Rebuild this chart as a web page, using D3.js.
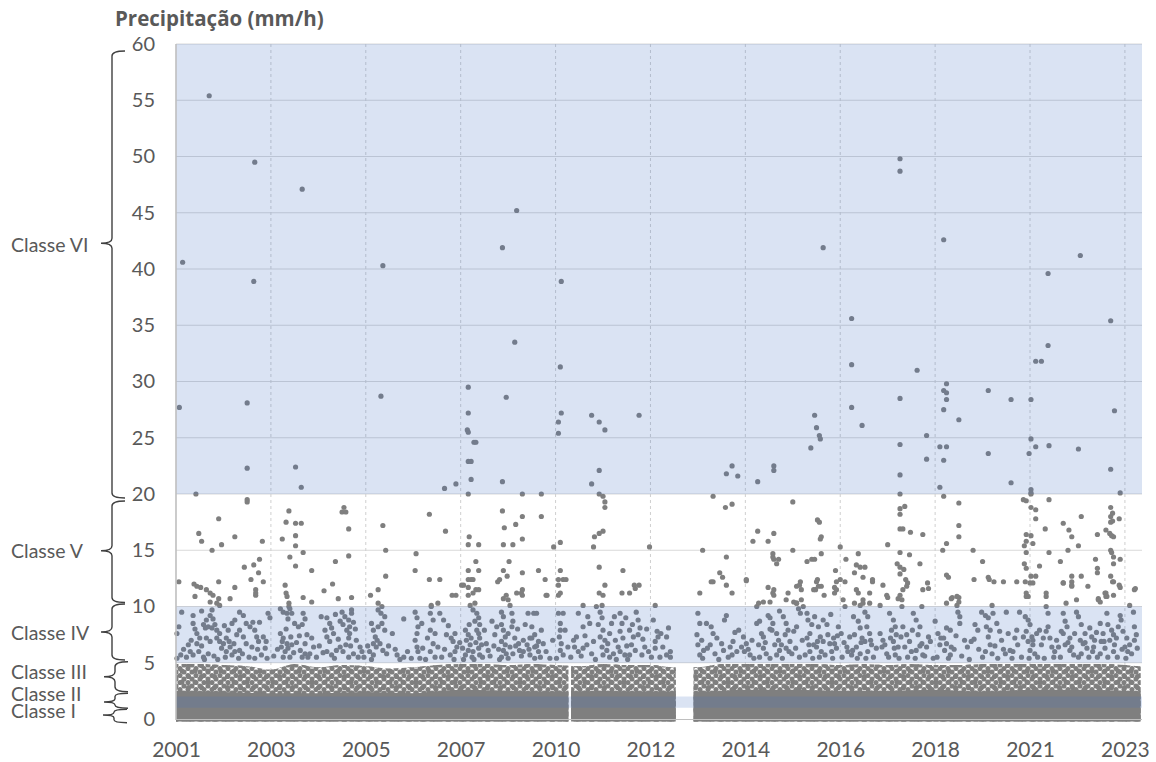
<!DOCTYPE html>
<html lang="pt">
<head>
<meta charset="utf-8">
<title>Precipitação (mm/h)</title>
<script src="https://cdn.jsdelivr.net/npm/d3@7"></script>
<style>
  html, body { margin: 0; padding: 0; background: #ffffff; }
  svg { display: block; }
  text { font-family: Lato, "Open Sans", "DejaVu Sans", sans-serif; fill: #595959; }
  text.title { font-family: "Open Sans", Lato, sans-serif; font-weight: bold; }
</style>
</head>
<body>
<svg id="chart" width="1156" height="762"></svg>
<script>
// ---- axis labels -------------------------------------------------------
const tickLabels = ["2001", "2003", "2005", "2007", "2010", "2012", "2014", "2016", "2018", "2021", "2023"];
const yTicks = [0, 5, 10, 15, 20, 25, 30, 35, 40, 45, 50, 55, 60];

// ---- intensity classes (mm/h) -------------------------------------------
const classes = [
  { name: "Classe I",   lo: 0,  hi: 1 },
  { name: "Classe II",  lo: 1,  hi: 2 },
  { name: "Classe III", lo: 2,  hi: 5 },
  { name: "Classe IV",  lo: 5,  hi: 10 },
  { name: "Classe V",   lo: 10, hi: 20 },
  { name: "Classe VI",  lo: 20, hi: 60 }
];
const shadedClasses = ["Classe II", "Classe IV", "Classe VI"];

// ---- records: position along the record axis (one unit per label) and intensity
// spans of the axis that hold records (breaks are missing data)
const recordSpans = [[0, 4.11], [4.19, 5.24], [5.48, 7.37], [7.42, 10.14]];

// upper limit of the packed cloud of low-intensity records
const packedTop = [
  [0, 4.9], [0.25, 4.9], [0.5, 4.8], [0.75, 4.7], [1, 4.4], [1.25, 4.9], [1.5, 4.6], [1.75, 4.8],
  [2, 4.7], [2.25, 4.5], [2.5, 4.6], [2.75, 4.8], [3, 4.9], [3.25, 4.9], [3.5, 4.8], [3.75, 4.9],
  [4, 4.8], [4.25, 4.7], [4.5, 4.9], [4.75, 4.8], [5, 4.8], [5.25, 4.6], [5.5, 4.6], [5.75, 4.9],
  [6, 4.9], [6.25, 4.9], [6.5, 4.9], [6.75, 4.9], [7, 4.8], [7.25, 4.9], [7.5, 4.8], [7.75, 4.9],
  [8, 4.8], [8.25, 4.8], [8.5, 4.9], [8.75, 4.9], [9, 4.9], [9.25, 4.9], [9.5, 4.9], [9.75, 4.9],
  [10, 4.8], [10.25, 4.6]
];
// limit below which the records overlap completely
const solidTop = [
  [0, 2.5], [0.5, 2.4], [1, 2.3], [1.5, 2.3], [2, 2.4], [2.5, 2.3], [3, 2.6], [3.5, 2.5], [4, 2.4],
  [4.5, 2.5], [5, 2.4], [5.5, 2.4], [6, 2.6], [6.5, 2.6], [7, 2.5], [7.5, 2.5], [8, 2.6], [8.5, 2.4],
  [9, 2.6], [9.5, 2.6], [10, 2.5], [10.25, 2.4]
];

const classVIPoints = [
  [0.35,55.4],[0.83,49.5],[1.33,47.1],[0.07,40.6],[0.82,38.9],[2.18,40.3],[3.44,41.9],[3.59,45.2],[4.06,38.9],
  [7.63,49.8],[7.63,48.7],[6.82,41.9],[8.09,42.6],[9.19,39.6],[9.53,41.2],
  [0.035,27.7],[0.75,28.1],[0.75,22.3],[0.21,20.0],[1.26,22.4],[1.32,20.6],[2.16,28.7],[2.83,20.5],[2.95,20.9],
  [3.08,29.5],[3.08,27.2],[3.07,25.7],[3.08,25.5],[3.14,24.6],[3.16,24.6],[3.08,22.9],[3.11,22.9],[3.11,21.3],[3.08,20.0],
  [3.57,33.5],[3.48,28.6],[3.44,21.1],[3.65,20.0],[3.85,20.0],
  [4.05,31.3],[4.06,27.2],[4.03,26.4],[4.03,25.4],
  [4.38,27.0],[4.46,26.4],[4.52,25.7],[4.46,22.1],[4.38,20.9],[4.46,20.0],[4.88,27.0],
  [7.12,35.6],[7.12,31.5],[7.12,27.7],[7.23,26.1],[6.73,27.0],[6.75,25.9],[6.78,25.2],[6.79,24.9],[6.69,24.1],
  [5.86,22.5],[5.80,21.8],[5.92,21.6],[6.13,21.1],[6.30,22.5],[6.30,22.1],
  [7.63,28.5],[7.63,24.4],[7.63,21.7],[7.63,20.0],
  [7.81,31.0],[7.91,25.2],[7.91,23.1],[8.05,24.2],[8.12,24.2],[8.09,23.0],[8.05,20.6],
  [8.12,29.8],[8.09,29.2],[8.12,29.0],[8.12,28.4],[8.09,27.5],[8.25,26.6],
  [8.56,29.2],[8.56,23.6],[8.80,28.4],[8.80,21.0],[9.01,28.4],[9.01,24.9],[9.06,24.2],[8.99,23.6],[9.01,20.4],[9.01,20.1],[9.01,20.0],
  [9.19,33.2],[9.06,31.8],[9.12,31.8],[9.20,24.3],[9.51,24.0],[9.85,35.4],[9.89,27.4],[9.85,22.2],[9.95,20.1]
];

const classVPoints = [
  [0.75,19.5],[0.75,19.3],[0.45,17.8],[0.24,16.5],[0.27,15.8],[0.38,15.0],[0.48,15.5],[0.62,16.2],[0.91,15.8],
  [0.72,13.5],[0.82,13.7],[0.88,14.2],[0.79,12.4],[0.92,12.2],[0.87,13.0],[0.84,11.5],[0.84,11.2],[0.84,11.0],
  [0.03,12.2],[0.19,12.0],[0.22,11.8],[0.26,11.7],[0.32,11.5],[0.36,11.2],[0.39,11.0],[0.45,12.2],[0.62,11.7],
  [0.20,10.9],[0.45,10.7],[0.57,10.7],[0.43,10.3],[0.46,10.1],[0.36,10.4],
  [1.19,18.5],[1.16,17.5],[1.26,17.4],[1.32,17.4],[1.26,16.3],[1.12,16.0],[1.26,15.4],[1.34,14.8],[1.20,14.4],
  [1.26,13.6],[1.43,13.2],[1.15,11.9],[1.16,11.2],[1.17,10.9],[1.34,10.8],[1.19,10.3],[1.19,10.0],[1.43,10.4],
  [1.56,11.4],[1.65,12.0],[1.68,14.0],[1.77,18.8],[1.75,18.4],[1.79,18.4],[1.82,16.9],[1.82,14.5],[1.71,10.7],[1.85,10.8],
  [2.18,17.2],[2.21,15.0],[2.21,12.7],[2.13,11.5],[2.05,11.0],[2.13,10.3],[2.17,10.0],[2.53,14.7],[2.52,13.2],
  [2.67,18.2],[2.67,12.4],[2.78,12.4],[2.84,16.7],[2.91,11.0],[2.95,11.0],[2.69,10.1],[2.76,10.3],
  [3.09,16.2],[3.08,15.5],[3.19,15.5],[3.16,14.0],[3.08,13.2],[3.19,13.2],[3.08,12.4],[3.11,12.4],[3.13,12.4],
  [3.03,11.9],[3.08,11.7],[3.16,11.5],[3.19,11.5],[3.08,11.0],[3.13,11.2],[3.01,11.9],[3.10,10.1],[3.15,10.3],
  [3.44,18.5],[3.46,17.0],[3.58,17.3],[3.65,18.0],[3.85,18.0],[3.45,15.5],[3.55,15.5],[3.65,16.0],[3.45,13.2],
  [3.51,14.0],[3.49,12.7],[3.39,12.2],[3.41,12.4],[3.65,13.0],[3.59,11.2],[3.65,11.5],[3.65,11.0],[3.48,11.0],
  [3.82,13.2],[3.89,12.4],[3.91,11.0],[3.98,15.3],[3.45,10.7],[3.64,11.2],[3.50,10.6],[3.52,10.1],[3.90,11.0],
  [4.05,15.7],[4.05,13.2],[4.03,12.4],[4.08,12.4],[4.11,12.4],[4.03,11.9],[4.05,11.2],[4.03,11.0],
  [4.50,16.7],[4.46,16.5],[4.41,16.2],[4.40,15.3],[4.46,13.5],[4.52,11.9],[4.46,11.2],[4.50,11.0],
  [4.50,19.8],[4.52,19.3],[4.52,18.8],[4.49,10.1],[4.29,10.1],
  [4.71,13.2],[4.83,11.9],[4.88,11.9],[4.70,11.2],[4.78,11.2],[4.84,11.6],[4.99,15.3],[5.05,10.1],
  [5.66,19.8],[5.79,18.8],[5.86,19.1],[6.50,19.3],[5.55,15.0],[5.80,14.4],[5.73,13.0],[5.76,12.6],[5.66,12.2],
  [5.80,11.9],[5.52,11.2],[5.86,11.2],[5.64,12.2],[6.01,12.3],
  [6.13,16.7],[6.08,15.8],[6.24,15.8],[6.30,16.5],[6.29,14.7],[6.30,14.2],[6.33,13.8],[6.29,14.4],[6.35,14.2],
  [6.01,12.4],[6.24,11.7],[6.30,11.5],[6.29,11.2],[6.30,11.0],[6.45,11.2],[6.50,15.0],[6.57,11.9],[6.59,11.5],
  [6.65,14.0],[6.70,14.2],[6.73,14.2],[6.76,17.7],[6.78,17.5],[6.80,16.2],[6.79,16.0],[6.80,14.7],[6.76,12.4],
  [6.80,11.8],[6.83,11.0],[6.74,11.5],[6.94,11.7],[6.94,11.2],[6.95,13.2],[7.00,15.3],[7.00,12.4],[7.06,14.2],
  [6.14,10.3],[6.19,10.4],[6.26,10.4],[6.54,11.8],[6.58,12.2],[6.72,11.5],[6.77,11.8],[6.75,12.2],
  [6.43,10.6],[6.51,10.4],[6.54,10.3],[6.59,10.6],[6.96,12.2],[7.05,12.2],[6.96,11.5],
  [7.19,14.7],[7.17,13.7],[7.21,13.5],[7.26,13.5],[7.15,13.0],[7.24,12.6],[7.34,12.4],[7.34,12.2],[7.17,11.5],
  [7.19,11.2],[7.50,15.5],[7.50,10.8],[7.15,10.3],[7.21,10.1],[7.24,10.3],[7.31,10.3],[7.42,10.1],[7.31,11.2],
  [7.45,11.9],[7.49,11.0],
  [7.63,18.7],[7.63,18.2],[7.68,18.9],[7.63,16.9],[7.66,16.9],[7.74,16.6],[7.87,16.4],[7.63,14.8],[7.73,14.6],
  [7.60,13.8],[7.63,13.5],[7.67,13.3],[7.63,12.9],[7.69,12.4],[7.71,12.1],[7.63,11.0],[7.61,10.7],[7.84,13.8],
  [7.92,12.1],[7.66,11.5],[7.70,11.8],[7.87,11.5],[7.93,11.6],
  [8.09,19.8],[8.25,19.2],[8.25,17.2],[8.25,16.2],[8.12,15.6],[8.08,15.0],[8.12,12.8],[8.14,12.6],[8.18,10.8],
  [8.25,10.8],[8.12,10.3],[8.17,10.7],[8.23,10.9],[8.25,10.4],[8.23,10.1],
  [8.40,15.0],[8.50,14.0],[8.56,12.6],[8.57,12.4],[8.62,12.2],[8.72,12.2],[8.86,12.2],[8.41,12.4],[8.60,10.1],
  [8.93,19.5],[8.96,19.4],[9.01,18.8],[9.06,18.6],[9.06,17.8],[9.16,16.9],[8.96,16.4],[9.01,16.3],[8.96,15.8],
  [8.94,15.4],[9.03,15.6],[8.96,14.8],[8.94,13.8],[8.96,13.4],[9.06,12.7],[9.01,12.7],[9.10,13.6],[9.20,19.5],
  [9.20,14.8],[9.32,14.0],[9.35,17.4],[9.41,16.8],[9.44,16.2],[9.40,15.0],[9.51,15.4],[9.54,18.0],[9.44,12.7],
  [9.44,12.2],[9.44,11.8],[9.54,12.7],[9.35,12.1],[9.61,11.8],[9.69,14.2],[9.71,13.4],[9.71,13.0],[9.71,16.4],
  [8.98,10.9],[8.95,12.2],[9.00,12.1],[9.03,12.1],[9.17,11.2],[9.38,10.3],[9.35,12.1],[9.44,11.9],[9.49,10.6],
  [8.96,11.2],[8.96,10.9],[9.17,10.9],
  [9.85,18.8],[9.85,18.0],[9.87,18.3],[9.85,17.5],[9.87,17.6],[9.80,16.8],[9.84,16.5],[9.86,16.3],[9.88,16.2],
  [9.94,17.8],[9.85,15.0],[9.86,14.8],[9.88,14.4],[9.88,13.8],[9.85,12.7],[9.88,12.2],[9.94,11.9],[9.95,14.2],
  [10.11,11.6],[9.95,11.7],[9.80,11.2],[9.80,10.9],[9.72,10.7],[9.74,10.4],[9.79,11.2],[9.81,10.9],[9.88,11.0],
  [9.87,12.2],[10.05,10.1],[10.10,11.5]
];

const classIVPoints = [
  [0.01,7.6],[0.03,8.2],[0.06,9.5],[0.01,5.4],[0.05,5.7],[0.11,5.5],[0.15,6.0],[0.18,9.2],
  [0.18,8.5],[0.20,8.0],[0.22,7.6],[0.25,7.2],[0.22,6.7],[0.18,5.7],[0.24,6.0],[0.29,5.5],[0.34,5.8],
  [0.29,8.4],[0.32,8.8],[0.36,9.2],[0.38,9.7],[0.39,8.9],[0.31,8.1],[0.34,8.2],[0.38,8.1],[0.41,8.4],
  [0.43,7.9],[0.46,7.6],[0.43,7.2],[0.46,6.9],[0.36,6.9],[0.32,7.2],[0.50,6.7],[0.53,7.2],[0.55,7.9],
  [0.59,8.5],[0.62,8.8],[0.67,9.5],[0.71,9.2],[0.74,8.5],[0.78,8.2],[0.81,8.6],[0.67,7.9],[0.64,7.5],
  [0.71,7.3],[0.74,6.7],[0.80,6.4],[0.67,6.1],[0.62,6.0],[0.48,6.3],[0.53,6.0],[0.57,6.4],[0.59,5.7],
  [0.83,7.9],[0.85,7.3],[0.87,6.9],[0.94,6.3],[0.96,5.4],[0.83,5.4],[0.90,5.7],[0.97,9.4],[0.99,9.0],
  [0.08,6.2],[0.13,6.6],[0.16,7.0],[0.27,6.5],[0.30,5.3],[0.40,5.6],[0.44,5.3],[0.52,5.5],[0.56,6.9],
  [0.61,6.7],[0.66,5.4],[0.70,5.8],[0.77,5.5],[0.86,6.2],[0.92,7.3],[0.95,6.9],[0.27,9.6],[0.51,8.3],[0.88,8.6],
  [1.10,9.8],[1.13,9.5],[1.17,9.4],[1.20,9.8],[1.22,9.4],[1.18,8.9],[1.10,7.6],[1.13,7.2],[1.17,6.7],
  [1.11,6.4],[1.15,6.0],[1.18,6.3],[1.22,6.6],[1.13,5.5],[1.20,5.5],[1.25,8.5],[1.29,8.2],[1.34,9.4],
  [1.36,8.9],[1.33,8.4],[1.38,7.5],[1.36,6.7],[1.31,6.1],[1.36,5.8],[1.39,5.5],[1.45,6.4],[1.43,7.2],
  [1.53,9.1],[1.59,9.0],[1.62,8.5],[1.64,8.1],[1.66,7.6],[1.59,7.3],[1.62,6.9],[1.59,6.0],[1.64,5.7],
  [1.69,6.1],[1.73,6.4],[1.76,6.0],[1.82,5.5],[1.87,5.8],[1.75,9.5],[1.78,9.1],[1.82,8.8],[1.83,8.2],
  [1.80,7.9],[1.76,8.4],[1.73,8.7],[1.83,7.6],[1.82,7.2],[1.87,8.6],[1.85,9.4],[1.85,9.7],[1.94,6.4],
  [1.96,6.0],[1.92,5.5],
  [1.03,5.6],[1.07,6.2],[1.12,6.9],[1.16,8.0],[1.21,7.3],[1.24,5.9],[1.27,6.8],[1.30,7.4],[1.33,5.5],
  [1.41,5.8],[1.48,5.5],[1.51,6.5],[1.55,5.9],[1.57,7.9],[1.67,5.4],[1.71,7.1],[1.79,6.6],[1.84,6.5],
  [1.90,7.0],[1.98,5.5],[1.68,9.3],[1.89,8.0],
  [2.06,8.5],[2.08,7.9],[2.10,7.3],[2.08,6.7],[2.11,6.4],[2.04,6.0],[2.08,5.7],
  [2.13,9.7],[2.16,9.4],[2.20,9.1],[2.17,8.5],[2.13,8.2],[2.20,7.9],[2.15,6.7],[2.18,6.1],[2.22,5.8],
  [2.33,5.7],[2.40,5.5],[2.36,5.3],[2.52,9.5],[2.54,9.0],[2.55,8.2],[2.54,7.6],[2.52,7.0],[2.54,6.4],
  [2.55,6.0],[2.57,5.4],[2.68,9.4],[2.69,10.0],[2.71,8.8],[2.68,7.9],[2.73,7.6],[2.71,6.7],[2.68,6.0],
  [2.73,5.5],[2.78,9.4],[2.82,8.8],[2.85,7.5],[2.90,7.2],[2.94,7.6],[2.92,6.9],[2.96,6.4],[2.94,6.0],
  [2.89,5.7],
  [2.02,6.5],[2.06,5.3],[2.12,7.0],[2.24,6.5],[2.28,7.6],[2.31,6.2],[2.44,6.0],[2.48,5.4],[2.60,6.3],
  [2.63,5.3],[2.65,7.2],[2.76,6.4],[2.80,5.5],[2.83,6.2],[2.87,8.3],[2.93,5.3],[2.99,6.8],[2.40,8.9],[2.59,8.5],
  [3.05,7.9],[3.08,7.5],[3.06,7.0],[3.10,6.6],[3.08,6.1],[3.05,5.7],[3.12,5.5],[3.13,6.0],
  [3.13,9.7],[3.17,9.4],[3.19,9.0],[3.15,8.7],[3.20,8.4],[3.17,7.9],[3.19,7.6],[3.20,7.2],[3.22,6.6],
  [3.19,6.3],[3.20,5.7],[3.27,6.7],[3.29,6.1],[3.33,8.7],[3.38,8.2],[3.43,9.5],[3.45,9.1],[3.43,8.4],
  [3.45,7.9],[3.47,7.3],[3.43,6.9],[3.47,6.6],[3.45,6.1],[3.48,5.8],[3.43,5.5],[3.41,5.3],[3.54,9.4],
  [3.55,8.7],[3.54,8.2],[3.57,7.2],[3.52,6.4],[3.55,5.8],[3.61,6.7],[3.62,6.1],[3.66,7.0],[3.70,6.6],
  [3.73,7.2],[3.77,9.4],[3.80,9.4],[3.71,9.4],[3.75,8.2],[3.78,7.5],[3.82,6.9],[3.66,6.0],[3.73,5.7],
  [3.78,5.4],[3.75,7.2],[3.78,6.4],[3.82,6.0],[3.85,7.9],[3.87,6.7],[3.84,5.5],
  [3.02,6.3],[3.03,5.3],[3.09,8.4],[3.11,7.2],[3.14,5.3],[3.16,6.8],[3.23,5.5],[3.25,7.9],[3.31,5.6],
  [3.35,6.5],[3.36,7.5],[3.40,6.2],[3.50,7.6],[3.50,5.4],[3.58,6.5],[3.60,8.0],[3.64,5.6],[3.68,8.4],
  [3.72,6.2],[3.80,6.5],[3.90,6.0],[3.94,5.4],[3.97,7.0],
  [4.03,9.4],[4.05,8.5],[4.05,7.9],[4.04,7.3],[4.06,6.7],[4.05,6.1],[4.08,5.7],[4.10,7.9],[4.08,9.4],
  [4.22,7.3],[4.20,6.4],[4.24,6.0],[4.29,6.3],[4.33,6.6],[4.24,9.4],[4.34,9.1],[4.36,8.5],[4.29,8.2],
  [4.43,10.0],[4.47,9.5],[4.49,9.0],[4.45,8.4],[4.50,7.9],[4.47,7.3],[4.52,7.0],[4.49,6.4],[4.54,6.1],
  [4.50,5.7],[4.57,5.5],[4.59,8.5],[4.57,7.6],[4.63,7.0],[4.66,6.4],[4.68,9.4],[4.70,8.5],[4.68,7.8],
  [4.71,7.2],[4.68,6.0],[4.73,5.7],[4.78,7.9],[4.82,7.3],[4.80,6.6],[4.84,6.1],[4.78,5.7],[4.85,9.5],
  [4.87,8.8],[4.89,8.1],[4.87,7.5],[4.94,6.4],[4.98,6.0],[5.01,5.5],[5.05,6.3],[5.03,8.8],[5.07,7.8],
  [5.08,7.3],[5.05,6.9],[5.13,6.4],[5.17,5.7],[5.21,6.0],[5.17,7.3],[5.19,8.1],[5.21,5.5],
  [4.01,5.4],[4.13,6.4],[4.16,5.5],[4.19,7.0],[4.27,5.6],[4.31,7.4],[4.38,5.8],[4.40,6.9],[4.42,5.3],
  [4.55,6.7],[4.61,5.8],[4.64,5.3],[4.75,6.5],[4.76,5.3],[4.81,8.4],[4.91,5.7],[4.92,7.1],[4.96,8.0],
  [5.10,5.5],[5.11,7.6],[4.62,9.1],[4.74,9.0],
  [5.50,9.4],[5.52,8.5],[5.49,7.5],[5.54,7.0],[5.50,6.6],[5.56,6.1],[5.52,5.7],[5.59,8.5],[5.64,8.2],
  [5.66,7.6],[5.63,6.6],[5.75,6.7],[5.78,8.8],[5.80,9.2],[5.84,6.4],[5.87,6.9],[5.77,6.1],[5.86,5.7],
  [5.93,7.9],[5.98,7.3],[5.96,6.4],[6.01,6.7],[5.99,6.0],[6.05,5.7],[6.12,10.0],[6.12,8.5],[6.15,8.7],
  [6.17,7.6],[6.19,7.3],[6.14,6.6],[6.19,6.3],[6.22,5.8],[6.15,5.5],[6.24,9.2],[6.26,9.0],[6.29,8.5],
  [6.28,7.9],[6.33,7.6],[6.35,7.0],[6.31,6.6],[6.36,6.1],[6.33,5.7],[6.40,9.1],[6.43,8.5],[6.45,7.9],
  [6.42,7.5],[6.47,6.9],[6.43,6.3],[6.49,5.8],[6.51,7.8],[6.54,8.2],[6.54,10.3],[6.56,9.8],[6.58,9.4],
  [6.61,10.0],[6.65,9.4],[6.66,8.8],[6.70,8.4],[6.68,7.6],[6.65,7.2],[6.72,6.6],[6.68,6.0],[6.63,5.7],
  [6.73,9.1],[6.77,8.2],[6.79,7.3],[6.75,6.4],[6.80,6.0],[6.82,8.8],[6.86,8.4],[6.87,7.5],[6.82,6.9],
  [6.89,6.7],[6.84,5.7],[6.93,7.2],[6.94,6.7],[6.96,6.3],[6.98,8.2],[7.01,7.6],
  [5.55,5.4],[5.60,6.3],[5.68,5.8],[5.70,7.2],[5.72,5.3],[5.82,5.5],[5.89,7.7],[5.91,6.0],[6.03,6.2],
  [6.07,7.0],[6.09,5.4],[6.21,6.8],[6.26,5.4],[6.38,6.6],[6.39,5.4],[6.46,6.0],[6.53,6.3],[6.57,5.5],
  [6.60,7.0],[6.67,6.6],[6.71,5.4],[6.76,6.9],[6.78,5.5],[6.91,6.0],[6.92,5.4],[6.97,7.4],[6.26,8.0],
  [6.36,9.6],[6.90,9.3],
  [7.07,6.4],[7.08,6.0],[7.12,5.7],[7.05,10.0],[7.03,10.6],[7.14,9.1],[7.19,8.7],[7.21,8.1],[7.15,7.5],
  [7.23,7.2],[7.17,6.4],[7.21,5.8],[7.24,10.6],[7.26,9.5],[7.29,9.1],[7.28,8.2],[7.31,7.6],[7.26,6.9],
  [7.33,6.6],[7.29,6.0],[7.35,5.5],[7.42,7.6],[7.45,7.0],[7.44,6.4],[7.49,5.8],[7.52,9.4],[7.56,8.8],
  [7.58,8.2],[7.54,7.9],[7.59,7.5],[7.56,6.9],[7.61,6.4],[7.58,5.7],[7.65,10.6],[7.65,10.0],[7.66,8.2],
  [7.70,7.5],[7.68,6.4],[7.73,6.9],[7.75,6.0],[7.77,9.4],[7.80,8.8],[7.84,8.2],[7.82,7.5],[7.86,6.7],
  [7.80,6.1],[7.87,5.7],[7.91,6.4],[7.93,7.3],[7.86,10.0],
  [7.02,5.5],[7.04,6.8],[7.10,7.3],[7.13,6.1],[7.18,5.4],[7.22,6.8],[7.27,5.4],[7.32,7.0],[7.38,6.3],
  [7.47,6.6],[7.51,5.5],[7.53,7.2],[7.57,6.3],[7.62,5.4],[7.64,7.3],[7.71,5.5],[7.76,7.9],[7.79,5.4],
  [7.84,6.5],[7.89,5.6],[7.95,6.9],[7.98,5.4],
  [8.00,8.7],[8.03,7.6],[8.09,7.2],[8.05,6.6],[8.12,6.7],[8.10,6.1],[8.17,6.4],[8.16,5.7],[8.12,8.1],
  [8.16,7.9],[8.24,9.5],[8.26,9.1],[8.26,8.5],[8.31,7.0],[8.38,6.9],[8.42,8.4],[8.45,7.9],[8.49,9.5],
  [8.53,9.2],[8.56,9.0],[8.54,8.2],[8.58,7.9],[8.56,7.3],[8.58,6.6],[8.53,6.0],[8.60,5.8],[8.61,9.4],
  [8.65,8.5],[8.68,7.8],[8.75,9.5],[8.86,7.9],[8.84,7.2],[8.79,6.1],[8.74,5.8],[8.82,6.0],[8.89,9.5],
  [8.95,9.1],[8.98,8.8],[9.00,8.4],[8.96,7.8],[9.02,7.3],[8.98,6.9],[9.03,6.6],[9.00,6.1],[9.05,5.8],
  [8.02,5.5],[8.06,7.2],[8.14,5.4],[8.20,6.2],[8.22,7.4],[8.28,5.6],[8.34,6.4],[8.36,5.3],[8.41,7.1],
  [8.46,6.2],[8.50,5.5],[8.63,6.5],[8.66,5.4],[8.70,7.0],[8.72,6.2],[8.77,7.6],[8.81,5.4],[8.87,6.6],
  [8.91,5.5],[8.93,7.3],[8.99,5.4],
  [9.07,7.6],[9.10,7.9],[9.14,7.2],[9.17,7.8],[9.19,8.2],[9.19,9.4],[9.17,10.0],[9.23,6.4],[9.26,6.0],
  [9.28,7.0],[9.35,9.4],[9.37,8.7],[9.39,8.2],[9.35,7.6],[9.42,7.2],[9.37,6.6],[9.42,6.1],[9.46,5.7],
  [9.49,9.5],[9.51,9.1],[9.54,8.4],[9.58,7.6],[9.53,7.0],[9.56,6.7],[9.60,6.3],[9.54,5.8],[9.63,8.1],
  [9.65,7.3],[9.68,7.0],[9.67,6.4],[9.72,10.6],[9.74,8.5],[9.77,7.6],[9.75,6.9],[9.79,6.3],[9.74,5.8],
  [9.81,9.4],[9.82,8.4],[9.86,7.9],[9.88,7.5],[9.84,7.0],[9.89,6.6],[9.88,6.0],[9.95,9.2],[9.96,8.8],
  [9.93,8.2],[9.98,7.8],[10.02,7.2],[10.00,6.4],[10.05,6.6],[10.03,6.0],[10.09,9.5],[10.10,8.2],
  [10.10,7.0],[10.13,6.3],
  [9.03,7.0],[9.08,5.5],[9.12,6.6],[9.15,5.4],[9.21,7.2],[9.25,5.5],[9.30,6.4],[9.32,5.5],[9.33,7.8],
  [9.40,6.8],[9.44,6.4],[9.47,7.6],[9.51,5.5],[9.58,6.8],[9.62,5.5],[9.66,6.0],[9.70,7.7],[9.71,5.5],
  [9.78,6.9],[9.82,5.5],[9.91,7.2],[9.92,5.5],[9.97,6.2],[10.01,5.4],[10.07,5.8],[10.12,7.5]
];

// ---- drawing -------------------------------------------------------------
const svg = d3.select("#chart");
const plot = { left: 176, right: 1142, top: 44, bottom: 719 };
const x = d3.scaleLinear().domain([0, 10.18]).range([plot.left, plot.right]);
const y = d3.scaleLinear().domain([0, 60]).range([plot.bottom, plot.top]);

const grey = "#7f7f7f";
const bandBlue = "#4472c4";

// texture for the packed low-intensity cloud: two staggered dot lattices
// with different periods, so the gaps between markers do not line up
const defs = svg.append("defs");
const textures = [
  { id: "packedA", w: 8, h: 7 },
  { id: "packedB", w: 13, h: 11 }
];
textures.forEach(tx => {
  const p = defs.append("pattern").attr("id", tx.id).attr("patternUnits", "userSpaceOnUse")
    .attr("width", tx.w).attr("height", tx.h);
  [[0, 0], [tx.w, 0], [0, tx.h], [tx.w, tx.h], [tx.w / 2, tx.h / 2]].forEach(([cx, cy]) =>
    p.append("circle").attr("cx", cx).attr("cy", cy).attr("r", 2.55).attr("fill", grey));
});

defs.append("clipPath").attr("id", "spans")
  .selectAll("rect").data(recordSpans).join("rect")
  .attr("x", d => x(d[0]) - 2.5)
  .attr("width", d => x(d[1]) - x(d[0]) + 5)
  .attr("y", plot.top).attr("height", plot.bottom - plot.top + 4);

// gridlines
const grid = svg.append("g");
grid.selectAll("line.h").data(yTicks.filter(v => v > 0)).join("line")
  .attr("x1", plot.left).attr("x2", plot.right)
  .attr("y1", d => y(d)).attr("y2", d => y(d))
  .attr("stroke", "#d9d9d9").attr("stroke-width", 1.2);
grid.selectAll("line.v").data(d3.range(1, tickLabels.length)).join("line")
  .attr("x1", d => x(d)).attr("x2", d => x(d))
  .attr("y1", plot.top).attr("y2", plot.bottom)
  .attr("stroke", "#cfcfcf").attr("stroke-width", 1)
  .attr("stroke-dasharray", "3,3");

// packed cloud of low-intensity records
const massG = svg.append("g").attr("clip-path", "url(#spans)");
const massArea = d3.area().curve(d3.curveMonotoneX)
  .x(d => x(d[0])).y0(y(0) + 2.5).y1(d => y(d[1]));
textures.forEach(tx =>
  massG.append("path").datum(packedTop).attr("d", massArea).attr("fill", `url(#${tx.id})`));
massG.append("path").datum(solidTop).attr("d", massArea).attr("fill", grey);

// individual records
const allPoints = classIVPoints.concat(classVPoints, classVIPoints);
svg.append("g").selectAll("circle").data(allPoints).join("circle")
  .attr("cx", d => x(d[0])).attr("cy", d => y(d[1]))
  .attr("r", 2.6).attr("fill", grey);

// shaded classes
svg.append("g").selectAll("rect")
  .data(classes.filter(c => shadedClasses.includes(c.name))).join("rect")
  .attr("x", plot.left).attr("width", plot.right - plot.left)
  .attr("y", d => y(d.hi)).attr("height", d => y(d.lo) - y(d.hi))
  .attr("fill", bandBlue).attr("fill-opacity", 0.2);

// axis lines
svg.append("line").attr("x1", plot.left).attr("x2", plot.left)
  .attr("y1", plot.top).attr("y2", plot.bottom + 1)
  .attr("stroke", "#bfbfbf").attr("stroke-width", 1.6);
svg.append("line").attr("x1", plot.left).attr("x2", plot.right)
  .attr("y1", plot.bottom + 0.5).attr("y2", plot.bottom + 0.5)
  .attr("stroke", "#bfbfbf").attr("stroke-width", 1.2);

// tick labels
const yAxis = svg.append("g").attr("transform", "translate(156,0)")
  .call(d3.axisLeft(y).tickValues(yTicks).tickSize(0).tickPadding(1));
yAxis.select(".domain").remove();
yAxis.selectAll("text").attr("font-size", 20).attr("font-family", null).attr("fill", "#595959");

const xAxis = svg.append("g").attr("transform", "translate(0,742)")
  .call(d3.axisBottom(x).tickValues(d3.range(tickLabels.length)).tickFormat(i => tickLabels[i]).tickSize(0).tickPadding(0));
xAxis.select(".domain").remove();
xAxis.selectAll("text").attr("font-size", 21).attr("font-family", null).attr("fill", "#595959");

// class braces and names
const braceStyle = {
  "Classe VI":  { top: 7,    bottom: 4,    tip: 0.43, x: 112, label: 2 },
  "Classe V":   { top: 7,    bottom: -4,   tip: 0.49, x: 112, label: 0 },
  "Classe IV":  { top: -2.5, bottom: -2.7, tip: 0.5,  x: 112, label: 1 },
  "Classe III": { top: -1,   bottom: -4.8, tip: 0.5,  x: 115, label: -4.5 },
  "Classe II":  { top: -3.2, bottom: 0.5,  tip: 0.58, x: 115, label: -7.5 },
  "Classe I":   { top: 1.5,  bottom: 3.7,  tip: 0.43, x: 114, label: -4 }
};
function bracePath(x0, y1, y2, yt) {
  const hook = 13, tipLen = 11;
  const r = Math.min(5, (yt - y1) / 2, (y2 - yt) / 2);
  return `M${x0 + hook},${y1} Q${x0},${y1} ${x0},${y1 + r} L${x0},${yt - r} ` +
         `Q${x0},${yt} ${x0 - tipLen},${yt} Q${x0},${yt} ${x0},${yt + r} ` +
         `L${x0},${y2 - r} Q${x0},${y2} ${x0 + hook},${y2}`;
}
const braces = svg.append("g");
classes.forEach(c => {
  const s = braceStyle[c.name];
  const y1 = y(c.hi) + s.top, y2 = y(c.lo) + s.bottom;
  const yt = y1 + (y2 - y1) * s.tip;
  braces.append("path").attr("d", bracePath(s.x, y1, y2, yt))
    .attr("fill", "none").attr("stroke", "#404040").attr("stroke-width", 1.4);
  braces.append("text").attr("x", 11).attr("y", yt + s.label).attr("dy", "0.35em")
    .attr("font-size", 19.5).text(c.name);
});

// axis title
svg.append("text").attr("class", "title").attr("x", 115).attr("y", 26)
  .attr("font-size", 20.5).text("Precipitação (mm/h)");
</script>
</body>
</html>
